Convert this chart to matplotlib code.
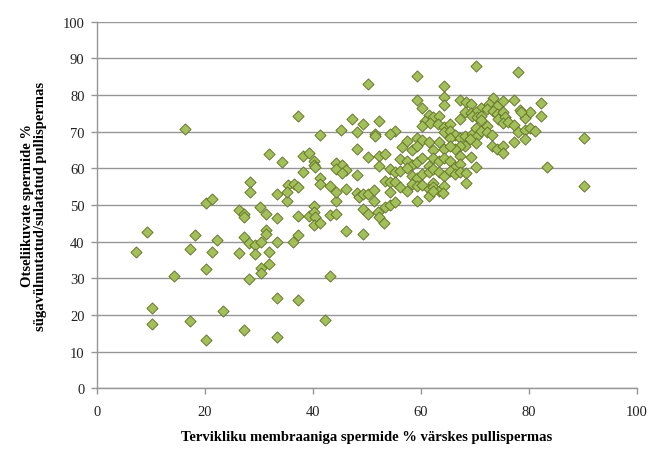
import matplotlib.pyplot as plt
import numpy as np

# Punktid (x = tervikliku membraaniga %, y = otseliikuvad %)
x_vals = [
    16.3, 31.9, 28.3, 28.3, 20.2, 21.3, 26.2, 27.2, 27.2, 30.2, 31.2, 31.3, 31.3, 9.3, 7.3, 18.2, 17.2, 22.2, 21.3,
    20.2, 14.3, 27.2, 28.2, 29.3, 30.3, 26.2, 29.2, 31.9, 30.3, 30.3, 28.2, 31.9, 10.2, 10.2, 17.2, 23.3, 27.2, 20.2,
    35.2, 40.2, 44.3, 33.3, 37.3, 39.3, 40.2, 40.4, 40.2, 41.3, 43.1, 44.3, 46.2, 49.2, 49.2, 50.2, 52.1, 52.3, 53.2,
    53.3, 54.3, 55.2, 33.3, 36.2, 37.3, 43.1, 33.3, 37.3, 42.3, 33.3,
    50.2, 37.3, 47.3, 49.3, 52.2, 45.2, 48.2, 51.4, 51.4, 41.3, 34.3, 38.2, 39.3, 40.2, 40.2, 40.4, 48.2, 50.2, 52.3,
    53.3, 52.3, 44.3, 45.3, 44.3, 46.2, 45.3, 38.2, 41.3, 41.2, 48.2, 43.1, 46.2, 53.3, 54.3, 35.4, 36.4, 37.3, 33.3,
    35.2, 44.3, 48.2, 48.6, 49.3, 50.2, 51.3, 51.3, 54.3,
    70.2, 59.2, 64.3, 78.0, 59.2, 60.2, 64.3, 64.3, 67.2, 68.3, 69.2, 73.3, 75.2, 77.2, 72.5, 71.2, 72.3, 74.1, 73.3,
    68.1, 69.2, 70.2, 67.2, 69.4, 70.3, 71.2, 71.2, 74.0, 75.2, 74.3, 75.6, 75.2, 76.1, 77.2, 61.4, 62.3, 63.4, 60.7,
    61.7, 63.2, 64.3, 65.4, 60.2, 55.2, 64.3, 65.4, 66.3, 65.4, 67.2, 68.1, 69.4, 70.2, 70.3, 71.2, 72.3, 72.2, 73.1,
    70.2, 69.1, 68.1, 67.2, 66.3, 73.1, 74.1, 75.2, 75.2, 77.2, 78.0, 59.2, 60.2, 61.4, 62.3, 63.4, 64.3, 65.4, 56.4,
    57.4, 58.3, 59.2, 54.3, 67.2, 69.2, 70.2, 62.3, 63.4, 64.3, 65.4, 66.3, 67.2, 56.1, 57.4, 58.3, 59.2, 60.2, 61.4,
    54.3, 55.2, 56.1, 57.4, 58.3, 59.2, 60.2, 61.4, 62.3, 63.4, 64.3, 65.4, 66.3, 67.2, 68.3, 58.3, 59.2, 60.2, 61.4,
    62.3, 62.3, 63.4, 64.3, 55.2, 56.1, 57.4, 68.3, 61.4, 64.1, 59.2, 62.3,
    82.2, 78.3, 79.3, 80.2, 78.6, 82.2, 79.3, 80.2, 81.1, 79.3, 90.2, 83.3, 90.2,
]
y_vals = [
    70.8, 63.9, 56.2, 53.6, 50.5, 51.6, 48.7, 47.5, 46.6, 49.5, 47.5, 43.3, 42.0, 42.7, 37.3, 41.8, 38.0, 40.4, 37.3,
    32.6, 30.7, 41.2, 39.5, 39.1, 40.0, 36.8, 36.6, 37.3, 32.7, 31.4, 29.7, 33.9, 21.8, 17.6, 18.3, 21.2, 15.8, 13.3,
    51.2, 49.8, 51.2, 46.4, 47.1, 47.1, 48.0, 46.6, 44.5, 45.1, 47.3, 47.5, 42.8, 42.1, 48.9, 47.5, 48.0, 46.6, 45.1,
    49.4, 50.0, 50.9, 39.8, 40.0, 41.8, 30.5, 24.5, 24.2, 18.7, 13.9,
    83.0, 74.2, 73.4, 72.1, 73.0, 70.5, 70.0, 69.3, 68.7, 69.1, 61.8, 63.4, 64.2, 62.1, 60.9, 60.3, 65.4, 63.0, 63.3,
    63.9, 60.7, 61.4, 60.9, 59.8, 59.6, 58.7, 58.9, 57.3, 55.7, 58.3, 55.3, 54.5, 56.6, 56.3, 55.4, 55.7, 55.0, 53.0,
    53.6, 53.5, 53.3, 52.1, 53.0, 53.0, 54.2, 51.2, 53.5,
    88.0, 85.1, 82.5, 86.2, 78.7, 76.4, 79.4, 77.3, 78.7, 78.0, 77.5, 79.1, 78.4, 78.7, 77.5, 76.4, 76.2, 77.1, 75.7,
    75.4, 75.1, 75.4, 73.4, 74.3, 73.9, 74.2, 73.3, 74.8, 75.3, 73.4, 73.9, 72.5, 72.7, 71.8, 74.5, 73.9, 74.2, 73.0,
    72.5, 72.1, 71.2, 72.1, 71.6, 70.2, 69.8, 70.2, 69.1, 68.2, 68.4, 68.9, 69.3, 70.9, 68.9, 70.2, 71.6, 70.0, 69.1,
    66.9, 68.0, 66.0, 66.0, 65.3, 66.2, 65.4, 66.0, 64.2, 67.3, 69.8, 68.2, 67.8, 67.3, 65.1, 67.1, 65.4, 66.0, 65.7,
    67.5, 65.1, 66.0, 69.3, 63.3, 63.0, 60.3, 62.7, 62.1, 62.7, 62.1, 60.3, 61.2, 62.5, 62.1, 60.9, 61.6, 62.7, 60.7,
    59.8, 58.9, 59.3, 60.0, 58.0, 57.5, 58.4, 58.9, 59.8, 58.9, 58.0, 59.3, 58.4, 58.9, 58.7, 55.7, 55.3, 55.4, 54.3,
    56.0, 54.8, 53.9, 55.3, 56.2, 54.8, 53.9, 56.0, 52.5, 53.3, 51.0, 53.9,
    77.8, 76.0, 73.6, 75.3, 75.3, 74.2, 70.5, 70.9, 70.2, 68.0, 68.4, 60.3, 55.1,
]

x_ticks = [0, 20, 40, 60, 80, 100]
y_ticks = [0, 10, 20, 30, 40, 50, 60, 70, 80, 90, 100]
x_title = "Tervikliku membraaniga spermide % värskes pullispermas"
y_title = "Otseliikuvate spermide %\nsügavülmutatud/sulatatud pullispermas"

plt.rcParams['font.family'] = ['Liberation Serif', 'DejaVu Serif']

fig = plt.figure(figsize=(6.53, 4.52), dpi=100)
ax = fig.add_axes([0.1486, 0.1387, 0.8269, 0.8111])

for y in y_ticks:
    ax.axhline(y, color='#969696', linewidth=1.0, zorder=1)

ax.scatter(x_vals, y_vals, marker='D', s=32, facecolor='#a3bf5a', edgecolor='#66782c', linewidth=0.7, zorder=3)

ax.set_xlim(0, 100)
ax.set_ylim(0, 100)
ax.set_xticks(x_ticks)
ax.set_yticks(y_ticks)
ax.tick_params(axis='both', labelsize=10.5, colors='#969696', labelcolor='#222222', length=4, width=1)
ax.tick_params(axis='x', pad=8)
ax.tick_params(axis='y', pad=5)

for side in ['top', 'right']:
    ax.spines[side].set_visible(False)
for side in ['left', 'bottom']:
    ax.spines[side].set_color('#969696')
    ax.spines[side].set_linewidth(1.0)

ax.set_xlabel(x_title, fontsize=10.5, fontweight='bold', labelpad=9)
ax.set_ylabel(y_title, fontsize=10.5, fontweight='bold', labelpad=11, linespacing=1.0)

plt.savefig('out.png', dpi=100)
